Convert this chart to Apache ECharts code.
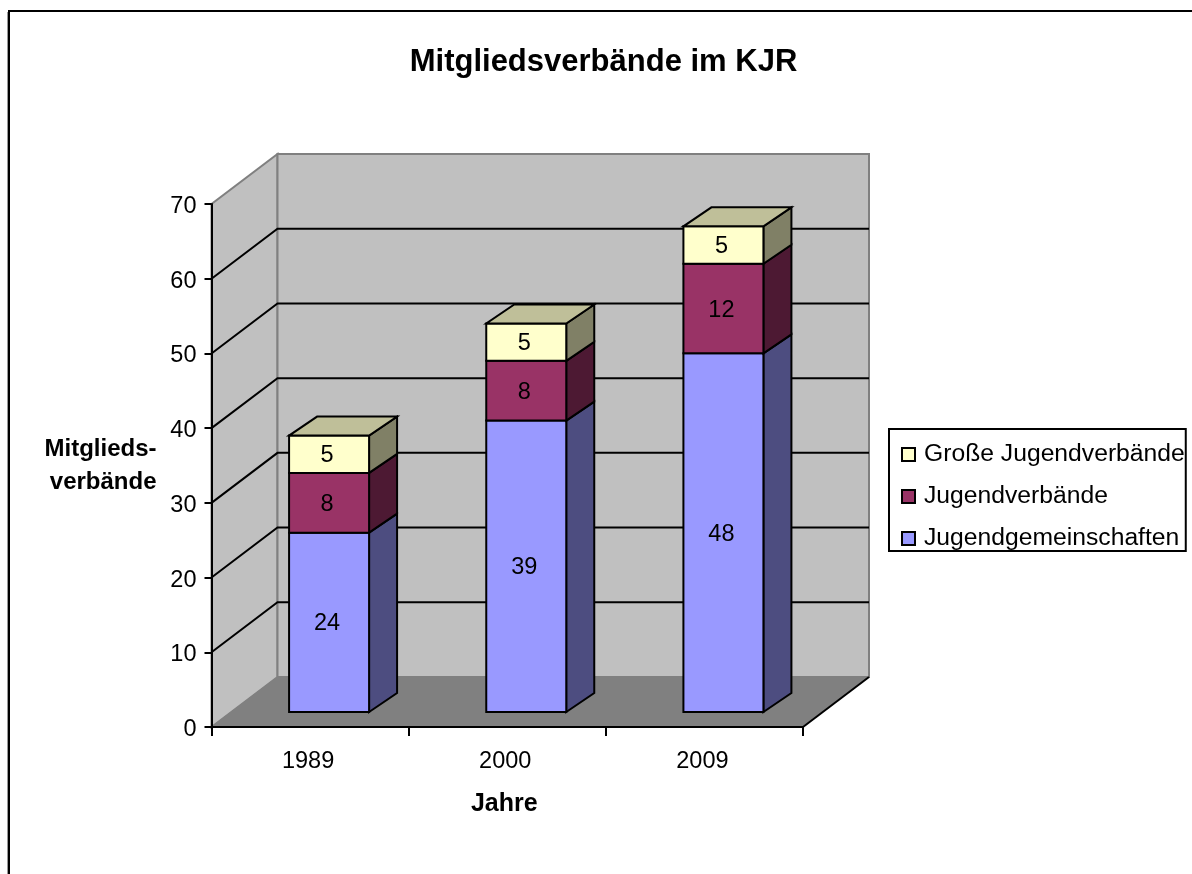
<!DOCTYPE html>
<html>
<head>
<meta charset="utf-8">
<style>
  html, body { margin: 0; padding: 0; background: #fff; }
  #chart { width: 1192px; height: 874px; }
</style>
<script src="https://cdn.jsdelivr.net/npm/echarts@6/dist/echarts.min.js"></script>
</head>
<body>
<div id="chart"></div>
<script>
const years = ['1989', '2000', '2009']
const gemeinschaften = [24, 39, 48]
const verbaende = [8, 8, 12]
const grosse = [5, 5, 5]
const gridTicks = [10, 20, 30, 40, 50, 60]

const fontFamily = '"Liberation Sans", Arial, sans-serif'

// 3D look: how far the back wall and the bars are pushed back, in pixels
const WALL_DX = 66
const WALL_DY = -50
const BAR_SHIFT_X = 19
const BAR_SHIFT_Y = -15
const BAR_WIDTH = 80
const BAR_DX = 28
const BAR_DY = -19

const poly = (points, fill, stroke, lineWidth) => ({
  type: 'polygon',
  shape: { points },
  style: { fill, stroke, lineWidth }
})

const renderWalls = (params, api) => {
  const left = api.coord([0, 0])[0] - api.size([1, 0])[0] / 2
  const right = left + api.size([1, 0])[0] * years.length
  const bottom = api.coord([0, 0])[1]
  const top = api.coord([0, 70])[1]
  const backLeft = left + WALL_DX
  const backRight = right + WALL_DX
  const children = [
    poly([[left, bottom], [backLeft, bottom + WALL_DY], [backLeft, top + WALL_DY], [left, top]], '#c0c0c0', '#808080', 2),
    poly([[backLeft, bottom + WALL_DY], [backRight, bottom + WALL_DY], [backRight, top + WALL_DY], [backLeft, top + WALL_DY]], '#c0c0c0', '#808080', 2),
    poly([[left, bottom], [right, bottom], [backRight, bottom + WALL_DY], [backLeft, bottom + WALL_DY]], '#808080', '#808080', 1),
    {
      type: 'line',
      shape: { x1: right, y1: bottom, x2: backRight, y2: bottom + WALL_DY },
      style: { stroke: '#000', lineWidth: 2 }
    }
  ]
  gridTicks.forEach(tick => {
    const y = api.coord([0, tick])[1]
    children.push({
      type: 'polyline',
      shape: { points: [[left, y], [backLeft, y + WALL_DY], [backRight, y + WALL_DY]] },
      style: { fill: 'none', stroke: '#000', lineWidth: 2 }
    })
  })
  return { type: 'group', children }
}

// data item: [year index, stack base, value]
const renderBar = (front, side, topFace) => (params, api) => {
  const base = api.value(1)
  const value = api.value(2)
  const center = api.coord([api.value(0), 0])[0] + BAR_SHIFT_X
  const x0 = center - BAR_WIDTH / 2
  const x1 = center + BAR_WIDTH / 2
  const yBase = api.coord([0, base])[1] + BAR_SHIFT_Y
  const yTop = api.coord([0, base + value])[1] + BAR_SHIFT_Y
  const children = [
    poly([[x1, yBase], [x1 + BAR_DX, yBase + BAR_DY], [x1 + BAR_DX, yTop + BAR_DY], [x1, yTop]], side, '#000', 2),
    poly([[x0, yBase], [x1, yBase], [x1, yTop], [x0, yTop]], front, '#000', 2)
  ]
  if (topFace) {
    children.push(poly([[x0, yTop], [x1, yTop], [x1 + BAR_DX, yTop + BAR_DY], [x0 + BAR_DX, yTop + BAR_DY]], topFace, '#000', 2))
  }
  children.push({
    type: 'text',
    style: {
      x: center - 2,
      y: (yBase + yTop) / 2 + 1.5,
      text: String(value),
      fill: '#000',
      font: '23.5px ' + fontFamily,
      align: 'center',
      verticalAlign: 'middle'
    }
  })
  return { type: 'group', children }
}

const barSeries = (name, values, bases, front, side, topFace, z) => ({
  name,
  type: 'custom',
  coordinateSystem: 'cartesian2d',
  z,
  itemStyle: { color: front },
  renderItem: renderBar(front, side, topFace),
  encode: { x: 0, y: [1, 2] },
  clip: false,
  silent: true,
  data: values.map((value, i) => [i, bases[i], value])
})

const base2 = gemeinschaften.map((value, i) => value + verbaende[i])
const zeroBase = years.map(() => 0)

const legendItem = (name, color) => ({
  name,
  icon: 'rect',
  itemStyle: { color, borderColor: '#000', borderWidth: 2 }
})

const option = {
  animation: false,
  backgroundColor: '#fff',
  title: {
    text: 'Mitgliedsverbände im KJR',
    left: 603.5,
    top: 47,
    padding: 0,
    textAlign: 'center',
    textStyle: { fontFamily, fontSize: 31, fontWeight: 'bold', color: '#000' }
  },
  grid: { left: 211.5, top: 204, width: 591.5, height: 523, outerBoundsMode: 'none' },
  legend: {
    orient: 'vertical',
    left: 889,
    top: 429,
    padding: [13, 1, 0, 12],
    itemGap: 17,
    itemWidth: 13,
    itemHeight: 13,
    borderColor: '#000',
    borderWidth: 2,
    selectedMode: false,
    textStyle: { fontFamily, fontSize: 24.7, color: '#000', padding: [0, 0, 0, 4] },
    data: [
      legendItem('Große Jugendverbände', '#ffffcc'),
      legendItem('Jugendverbände', '#993366'),
      legendItem('Jugendgemeinschaften', '#9999ff')
    ]
  },
  xAxis: {
    type: 'category',
    data: years,
    z: 10,
    name: 'Jahre',
    nameLocation: 'middle',
    nameGap: 65,
    nameTextStyle: { fontFamily, fontSize: 25, fontWeight: 'bold', color: '#000', padding: [0, 6, 0, 0] },
    axisLine: { lineStyle: { color: '#000', width: 2 } },
    axisTick: { show: true, length: 9, lineStyle: { color: '#000', width: 2 } },
    axisLabel: { fontFamily, fontSize: 23.5, color: '#000', margin: 23, padding: [0, 4, 0, 0] }
  },
  yAxis: {
    type: 'value',
    min: 0,
    max: 70,
    interval: 10,
    z: 10,
    name: 'Mitglieds-\nverbände',
    nameLocation: 'middle',
    nameRotate: 0,
    nameGap: 55,
    nameTextStyle: { fontFamily, fontSize: 24, fontWeight: 'bold', color: '#000', lineHeight: 33 },
    splitLine: { show: false },
    axisLine: { show: true, lineStyle: { color: '#000', width: 2 } },
    axisTick: { show: true, length: 7, lineStyle: { color: '#000', width: 2 } },
    axisLabel: { fontFamily, fontSize: 23.5, color: '#000', margin: 15, verticalAlign: 'top', lineHeight: 5 }
  },
  graphic: [
    // chart frame runs off the right and bottom of the picture
    { type: 'line', shape: { x1: 7.5, y1: 12, x2: 7.5, y2: 874 }, style: { stroke: '#999', lineWidth: 1 } },
    { type: 'polyline', shape: { points: [[9, 874], [9, 11], [1192, 11]] }, style: { fill: 'none', stroke: '#000', lineWidth: 2 } }
  ],
  series: [
    {
      name: 'walls',
      type: 'custom',
      coordinateSystem: 'cartesian2d',
      z: 1,
      silent: true,
      clip: false,
      renderItem: renderWalls,
      encode: { x: 0, y: 1 },
      data: [[0, 0]]
    },
    barSeries('Jugendgemeinschaften', gemeinschaften, zeroBase, '#9999ff', '#4d4d80', null, 2),
    barSeries('Jugendverbände', verbaende, gemeinschaften, '#993366', '#4d1933', null, 3),
    barSeries('Große Jugendverbände', grosse, base2, '#ffffcc', '#808066', '#bfbf99', 4)
  ]
}

const chartInstance = echarts.init(document.getElementById('chart'), null, { renderer: 'canvas' })
chartInstance.setOption(option)
</script>
</body>
</html>
